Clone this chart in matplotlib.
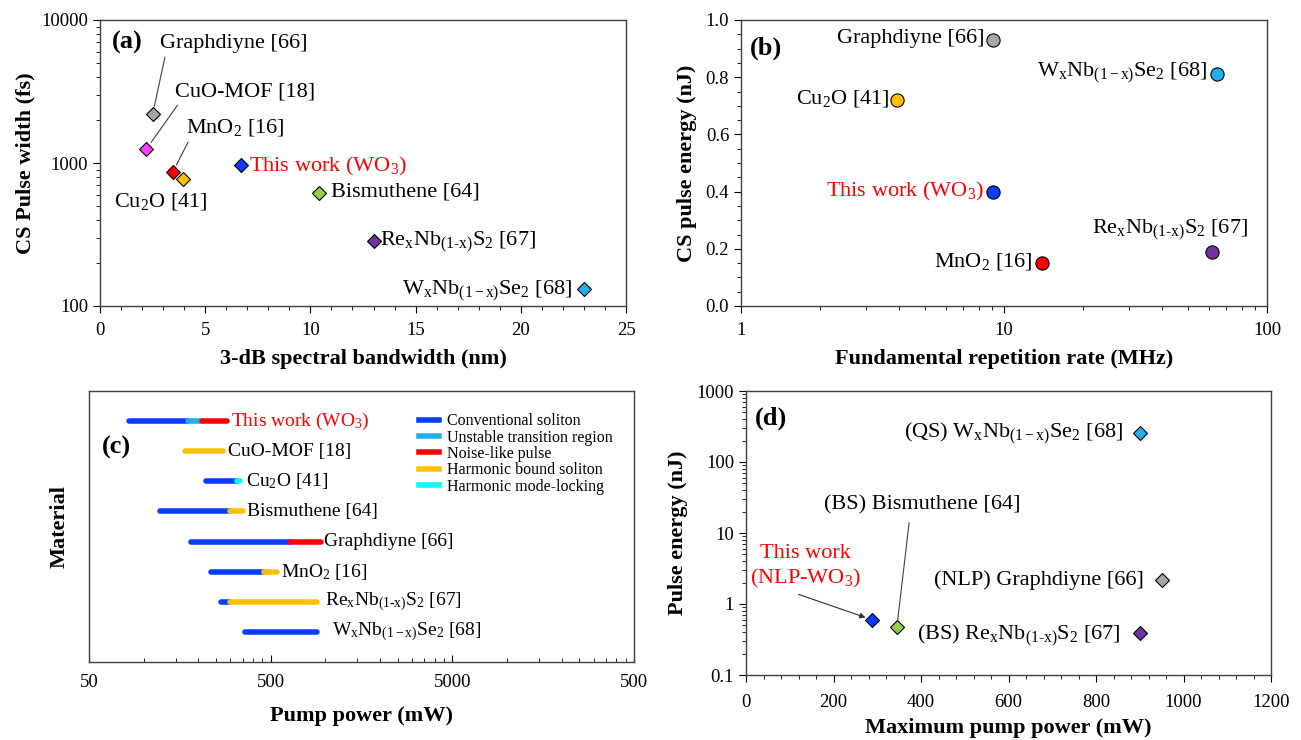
import matplotlib
matplotlib.use("Agg")
import matplotlib.pyplot as plt
from matplotlib.ticker import FixedLocator, MultipleLocator, LogLocator, NullFormatter, FixedFormatter
from matplotlib.lines import Line2D

plt.rcParams["font.family"] = ["Liberation Serif", "DejaVu Serif"]
plt.rcParams["mathtext.fontset"] = "custom"
plt.rcParams["mathtext.rm"] = "Liberation Serif"
plt.rcParams["mathtext.it"] = "Liberation Serif:italic"
plt.rcParams["mathtext.bf"] = "Liberation Serif:bold"

WNB = r"W$_\mathregular{x}$Nb$_\mathregular{(1-x)}$Se$_\mathregular{2}$"
RENB = r"Re$_\mathregular{x}$Nb$_\mathregular{(1‐x)}$S$_\mathregular{2}$"
WO3 = r"This work (WO$_\mathregular{3}$)"
MNO2 = r"MnO$_\mathregular{2}$ [16]"
CU2O = r"Cu$_\mathregular{2}$O [41]"

# ---- panel (a): bandwidth vs CS pulse width
a_names = ["Graphdiyne [66]", "CuO-MOF [18]", MNO2, CU2O, WO3,
           "Bismuthene [64]", RENB + " [67]", WNB + " [68]"]
a_bw = [2.5, 2.2, 3.45, 3.95, 6.7, 10.4, 13.0, 23.0]
a_width = [2190, 1250, 860, 770, 970, 620, 285, 131]
a_colors = ["#a6a6a6", "#ff3cff", "#ff0000", "#ffc000", "#0a3cff",
            "#92d050", "#7030a0", "#1fb0f0"]

# ---- panel (b): repetition rate vs CS pulse energy
b_names = ["Graphdiyne [66]", WNB + " [68]", CU2O, WO3, RENB + " [67]", MNO2]
b_rate = [9.06, 64.7, 3.91, 9.06, 61.7, 13.9]
b_energy = [0.93, 0.81, 0.72, 0.40, 0.19, 0.15]
b_colors = ["#a6a6a6", "#1fb0f0", "#ffc000", "#0a3cff", "#7030a0", "#ff0000"]

# ---- panel (c): operating regimes vs pump power (mW)
c_names = [WO3, "CuO-MOF [18]", CU2O, "Bismuthene [64]", "Graphdiyne [66]",
           MNO2, RENB + " [67]", WNB + " [68]"]
c_segments = [
    [(83, 175, "cs"), (175, 210, "ut"), (210, 288, "nlp")],
    [(168, 272, "hbs")],
    [(220, 325, "cs"), (325, 340, "hml")],
    [(123, 300, "cs"), (300, 350, "hbs")],
    [(182, 640, "cs"), (640, 950, "nlp")],
    [(234, 460, "cs"), (460, 540, "hbs")],
    [(265, 300, "cs"), (300, 900, "hbs")],
    [(360, 900, "cs")],
]
c_regimes = ["cs", "ut", "nlp", "hbs", "hml"]
c_regime_labels = ["Conventional soliton", "Unstable transition region",
                   "Noise-like pulse", "Harmonic bound soliton",
                   "Harmonic mode-locking"]
c_regime_colors = {"cs": "#0a3cff", "ut": "#1fb0e8", "nlp": "#ff0000",
                   "hbs": "#ffc000", "hml": "#00ffff"}
c_ticks = [50, 500, 5000, 50000]
c_ticklabels = ["50", "500", "5000", "500"]

# ---- panel (d): max pump power vs pulse energy
d_names = [r"(QS) " + WNB + " [68]", "(NLP) Graphdiyne [66]",
           r"(BS) " + RENB + " [67]", "(BS) Bismuthene [64]",
           "This work\n" + r"(NLP-WO$_\mathregular{3}$)"]
d_power = [900, 950, 900, 345, 288]
d_energy = [260, 2.2, 0.39, 0.48, 0.6]
d_markers_colors = ["#1fb0f0", "#a6a6a6", "#7030a0", "#92d050", "#0a3cff"]

W, H = 1301, 740
fig = plt.figure(figsize=(W / 100, H / 100), dpi=100)


def box(l, t, r, b):
    return [l / W, 1 - b / H, (r - l) / W, (b - t) / H]


TICK = 13.5
LAB = 16
ANN = 16

ax_a = fig.add_axes(box(100, 20, 626, 306))
ax_b = fig.add_axes(box(741, 20, 1267, 306))
ax_c = fig.add_axes(box(89, 391, 634, 662))
ax_d = fig.add_axes(box(746, 391, 1271, 675))

for ax in (ax_a, ax_b, ax_c, ax_d):
    for s in ax.spines.values():
        s.set_color("#404040")
        s.set_linewidth(1.0)
    ax.tick_params(which="both", direction="out", labelsize=TICK, top=False, right=False)
    ax.tick_params(which="major", length=5)
    ax.tick_params(which="minor", length=3)
    ax.tick_params(axis="x", which="major", pad=6.5)

# ---------------- (a)
ax_a.set_yscale("log")
ax_a.set_xlim(0, 25)
ax_a.set_ylim(100, 10000)
ax_a.xaxis.set_major_locator(MultipleLocator(5))
ax_a.xaxis.set_minor_locator(MultipleLocator(1))
ax_a.yaxis.set_major_locator(FixedLocator([100, 1000, 10000]))
ax_a.yaxis.set_major_formatter(FixedFormatter(["100", "1000", "10000"]))
ax_a.yaxis.set_minor_locator(LogLocator(base=10, subs=range(2, 10)))
ax_a.yaxis.set_minor_formatter(NullFormatter())
for x, y, c in zip(a_bw, a_width, a_colors):
    ax_a.plot(x, y, "D", ms=7, mfc=c, mec="black", mew=0.8, zorder=3)
ax_a.set_xlabel("3-dB spectral bandwidth (nm)", fontsize=LAB, fontweight="bold", labelpad=7)
ax_a.set_ylabel("CS Pulse width (fs)", fontsize=LAB, fontweight="bold", labelpad=4)
ax_a.text(0.023, 0.92, "(a)", transform=ax_a.transAxes, fontsize=19, fontweight="bold", va="center")

a_text_pos = [(2.85, 6870), (3.55, 3150), (4.1, 1770), (0.65, 540), (7.1, 940),
              (11.0, 630), (13.3, 282), (22.45, 129)]
a_leader = [True, True, True, False, False, False, False, False]
for i, name in enumerate(a_names):
    tx, ty = a_text_pos[i]
    col = "red" if name == WO3 else "black"
    ha = "right" if i == 7 else "left"
    if a_leader[i]:
        ax_a.annotate(name, xy=(a_bw[i], a_width[i]), xytext=(tx, ty), fontsize=ANN,
                      color=col, ha=ha, va="center",
                      arrowprops=dict(arrowstyle="-", color="#404040", lw=0.8,
                                      relpos=(0.04, 0.0), shrinkA=1, shrinkB=6))
    else:
        ax_a.text(tx, ty, name, fontsize=ANN, color=col, ha=ha, va="center")

# ---------------- (b)
ax_b.set_xscale("log")
ax_b.set_xlim(1, 100)
ax_b.set_ylim(0, 1.0)
ax_b.xaxis.set_major_locator(FixedLocator([1, 10, 100]))
ax_b.xaxis.set_major_formatter(FixedFormatter(["1", "10", "100"]))
ax_b.xaxis.set_minor_locator(LogLocator(base=10, subs=range(2, 10)))
ax_b.xaxis.set_minor_formatter(NullFormatter())
ax_b.yaxis.set_major_locator(MultipleLocator(0.2))
ax_b.yaxis.set_minor_locator(MultipleLocator(0.05))
ax_b.yaxis.set_major_formatter(plt.FuncFormatter(lambda v, p: f"{v:.1f}"))
for x, y, c in zip(b_rate, b_energy, b_colors):
    ax_b.plot(x, y, "o", ms=9.5, mfc=c, mec="black", mew=0.8, zorder=3)
ax_b.set_xlabel("Fundamental repetition rate (MHz)", fontsize=LAB, fontweight="bold", labelpad=7)
ax_b.set_ylabel("CS pulse energy (nJ)", fontsize=LAB, fontweight="bold", labelpad=6)
ax_b.text(0.017, 0.9, "(b)", transform=ax_b.transAxes, fontsize=19, fontweight="bold", va="center")
b_text_pos = [(8.4, 0.935), (59.5, 0.815), (3.66, 0.725), (8.4, 0.40), (84.8, 0.266), (12.8, 0.155)]
for i, name in enumerate(b_names):
    col = "red" if name == WO3 else "black"
    ax_b.text(*b_text_pos[i], name, fontsize=ANN, color=col, ha="right", va="center")

# ---------------- (c)
ax_c.set_xscale("log")
ax_c.set_xlim(50, 50000)
ax_c.set_ylim(0, 9)
ax_c.xaxis.set_major_locator(FixedLocator(c_ticks))
ax_c.xaxis.set_major_formatter(FixedFormatter(c_ticklabels))
ax_c.xaxis.set_minor_locator(LogLocator(base=10, subs=[0.5 * k for k in range(2, 10)]))
ax_c.xaxis.set_minor_formatter(NullFormatter())
ax_c.tick_params(axis="x", which="both", direction="in")
ax_c.tick_params(axis="x", which="major", pad=8.5)
ax_c.set_yticks([])
label_offsets = [3, 4, 4, 3, 2, 3, 6, 11]
for i, name in enumerate(c_names):
    row = 8 - i
    for start, end, kind in c_segments[i]:
        ax_c.plot([start, end], [row, row], color=c_regime_colors[kind], lw=4,
                  solid_capstyle="round", zorder=2)
    last = c_segments[i][-1][1]
    col = "red" if name == WO3 else "black"
    ax_c.annotate(name, xy=(last, row), xytext=(label_offsets[i], 0), textcoords="offset points",
                  fontsize=14, color=col, ha="left", va="center")
ax_c.text(0.024, 0.79, "(c)", transform=ax_c.transAxes, fontsize=19, fontweight="bold", va="center")
handles = [Line2D([], [], color=c_regime_colors[k], lw=4) for k in c_regimes]
ax_c.legend(handles, c_regime_labels, loc="upper left", bbox_to_anchor=(0.59, 0.947),
            frameon=False, fontsize=11.5, handlelength=1.3, handletextpad=0.5,
            labelspacing=0.02, borderpad=0)
ax_c.set_xlabel("Pump power (mW)", fontsize=LAB, fontweight="bold", labelpad=11)
ax_c.set_ylabel("Material", fontsize=LAB, fontweight="bold", labelpad=14)

# ---------------- (d)
ax_d.set_yscale("log")
ax_d.set_xlim(0, 1200)
ax_d.set_ylim(0.1, 1000)
ax_d.xaxis.set_major_locator(MultipleLocator(200))
ax_d.xaxis.set_minor_locator(MultipleLocator(40))
ax_d.yaxis.set_major_locator(FixedLocator([0.1, 1, 10, 100, 1000]))
ax_d.yaxis.set_major_formatter(FixedFormatter(["0.1", "1", "10", "100", "1000"]))
ax_d.yaxis.set_minor_locator(LogLocator(base=10, subs=range(2, 10)))
ax_d.yaxis.set_minor_formatter(NullFormatter())
ax_d.tick_params(axis="x", which="major", pad=9)
for x, y, c in zip(d_power, d_energy, d_markers_colors):
    ax_d.plot(x, y, "D", ms=7, mfc=c, mec="black", mew=0.8, zorder=3)
ax_d.set_xlabel("Maximum pump power (mW)", fontsize=LAB, fontweight="bold", labelpad=5)
ax_d.set_ylabel("Pulse energy (nJ)", fontsize=LAB, fontweight="bold", labelpad=6)
ax_d.text(0.017, 0.905, "(d)", transform=ax_d.transAxes, fontsize=19, fontweight="bold", va="center")

ax_d.text(862, 256, d_names[0], fontsize=ANN, ha="right", va="center")
ax_d.text(910, 2.17, d_names[1], fontsize=ANN, ha="right", va="center")
ax_d.text(857, 0.37, d_names[2], fontsize=ANN, ha="right", va="center")
ax_d.annotate(d_names[3], xy=(d_power[3], d_energy[3]), xytext=(402, 25), fontsize=ANN,
              ha="center", va="center",
              arrowprops=dict(arrowstyle="-", color="#404040", lw=0.8,
                              relpos=(0.44, 0.0), shrinkA=4, shrinkB=5))
ax_d.annotate(d_names[4], xy=(d_power[4], d_energy[4]), xytext=(136, 3.3), fontsize=ANN,
              color="red", ha="center", va="center", linespacing=1.25,
              arrowprops=dict(arrowstyle="-|>", color="#303030", lw=0.8, mutation_scale=8,
                              relpos=(0.33, 0.0), shrinkA=3, shrinkB=5))

fig.savefig("out.png", dpi=100)
